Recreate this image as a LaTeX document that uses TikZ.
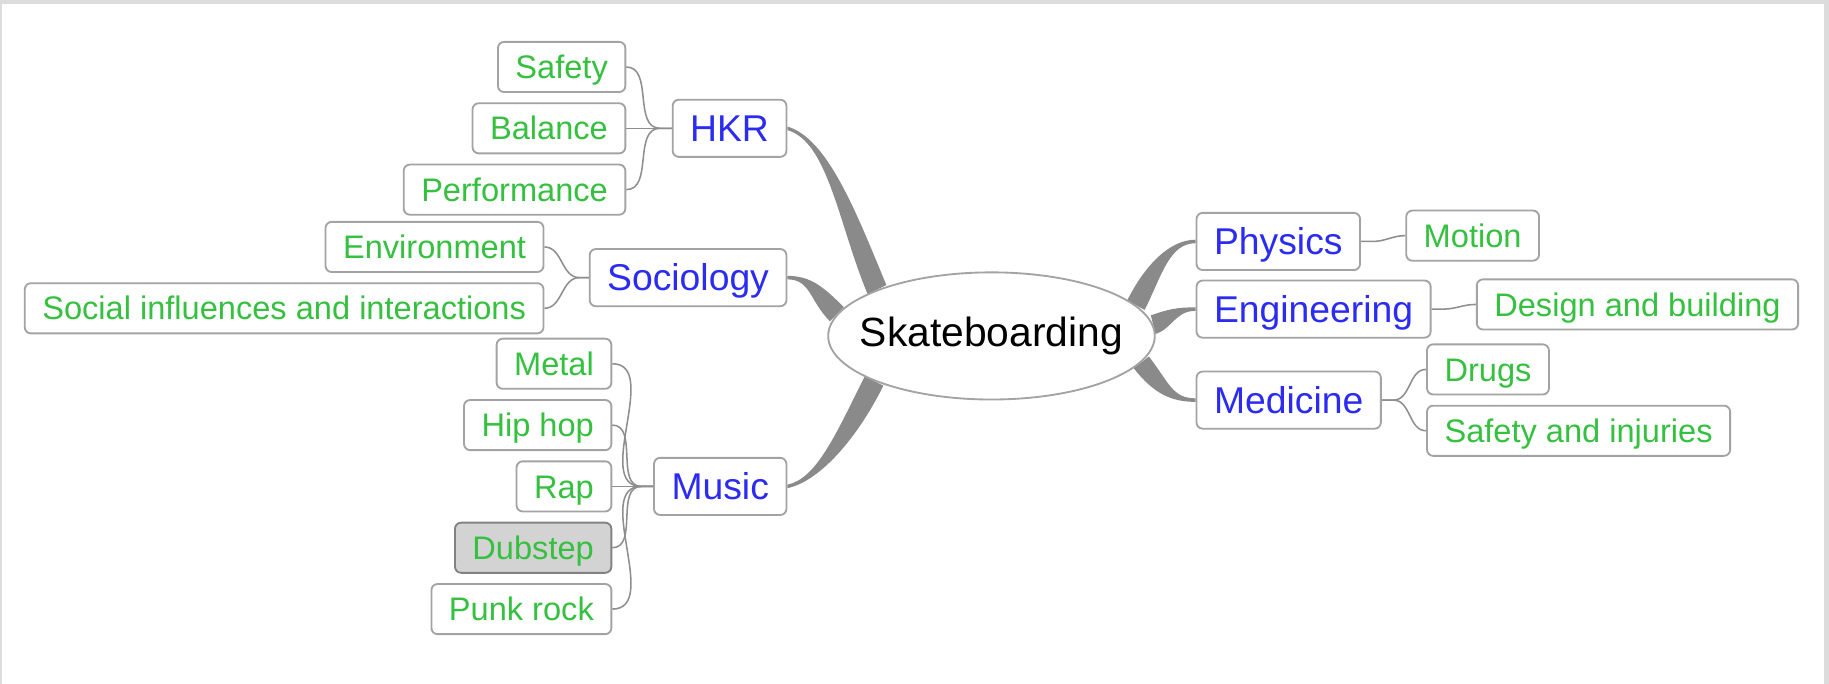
\documentclass[tikz,border=0pt]{standalone}
\usepackage{fontspec}
\setmainfont{Liberation Sans}
\usetikzlibrary{positioning,shapes.geometric,calc,backgrounds}

\definecolor{leafgreen}{HTML}{35C040}
\definecolor{topicblue}{HTML}{2B2BF2}
\definecolor{boxline}{HTML}{A3A3A3}
\definecolor{trunkgray}{HTML}{8A8A8A}
\definecolor{twiggray}{HTML}{8E8E8E}
\definecolor{dubgray}{HTML}{D3D3D3}
\definecolor{framegray}{HTML}{DCDCDC}

\tikzset{
  root/.style={ellipse, draw=boxline, line width=0.9pt, fill=white,
    inner xsep=-0.4cm, inner ysep=0pt,
    minimum width=5.6cm, minimum height=2.18cm, font=\fontsize{19.9}{22}\selectfont},
  box/.style={rectangle, rounded corners=3pt, draw=boxline, line width=0.9pt,
    fill=white, inner xsep=0.3cm},
  topic/.style={box, text=topicblue, minimum height=0.98cm,
    text height=16pt, text depth=3pt, font=\fontsize{18.2}{20}\selectfont},
  leaf/.style={box, text=leafgreen, minimum height=0.86cm,
    text height=14pt, text depth=2.6pt, font=\fontsize{15.9}{18}\selectfont},
  twig/.style={draw=twiggray, line width=0.75pt},
  trunk/.style={fill=trunkgray},
}

% tapered branch: thin end at #1, wide end at #2, controls #3/#4, half width #5
\newcommand{\trunk}[5]{%
  \fill[trunk] ($(#1)+(0,0.03)$) .. controls +(#3) and +(#4) .. ($(#2)+(#5)$)
    -- ($(#2)-(#5)$) .. controls +(#4) and +(#3) .. ($(#1)-(0,0.03)$) -- cycle;}

\begin{document}
\begin{tikzpicture}
 \useasboundingbox (-17,-5.96) rectangle (14.36,5.76);
 \fill[framegray] (-17,5.69) rectangle (14.36,5.76);
 \fill[framegray] (14.274,-5.96) rectangle (14.36,5.76);
 \fill[framegray] (-17,-5.96) rectangle (-16.965,5.76);

 \node[root] (skate) at (0,0) {Skateboarding};

 % left topics
 \node[topic] (hkr) [left=3.5cm of skate.center, yshift=3.56cm] {HKR};
 \node[topic] (sociology) [left=3.5cm of skate.center, yshift=1.0cm] {Sociology};
 \node[topic] (music) [left=3.5cm of skate.center, yshift=-2.58cm] {Music};
 % right topics
 \node[topic] (physics) [right=3.5cm of skate.center, yshift=1.62cm] {Physics};
 \node[topic] (engineering) [right=3.5cm of skate.center, yshift=0.46cm] {Engineering};
 \node[topic] (medicine) [right=3.5cm of skate.center, yshift=-1.1cm] {Medicine};

 % HKR
 \node[leaf] (balance) [left=0.78cm of hkr] {Balance};
 \node[leaf] (safety) [above left=0.16cm and 0cm of balance.north east] {Safety};
 \node[leaf] (performance) [below left=0.16cm and 0cm of balance.south east] {Performance};

 % Sociology
 \node[leaf] (environment) [above left=0.08cm and 0.76cm of sociology.west] {Environment};
 \node[leaf] (social) [below left=0.08cm and 0.76cm of sociology.west] {Social influences and interactions};

 % Music
 \node[leaf] (rap) [left=0.7cm of music] {Rap};
 \node[leaf] (hiphop) [above left=0.16cm and 0cm of rap.north east] {Hip hop};
 \node[leaf] (metal) [above left=0.16cm and 0cm of hiphop.north east] {Metal};
 \node[leaf, fill=dubgray, draw=boxline!80!black] (dubstep) [below left=0.16cm and 0cm of rap.south east] {Dubstep};
 \node[leaf] (punk) [below left=0.16cm and 0cm of dubstep.south east] {Punk rock};

 % right leaves
 \node[leaf] (motion) [right=0.76cm of physics, yshift=0.1cm] {Motion};
 \node[leaf] (design) [right=0.76cm of engineering, yshift=0.08cm] {Design and building};
 \node[leaf] (drugs) [above right=0.08cm and 0.76cm of medicine.east] {Drugs};
 \node[leaf] (injuries) [below right=0.08cm and 0.76cm of medicine.east] {Safety and injuries};

 \begin{scope}[on background layer]
  \trunk{hkr.east}{skate.158}{0.7,-0.2}{-0.5,1.2}{0.16,0.08}
  \trunk{sociology.east}{skate.172}{0.4,0}{-0.35,0.35}{0.12,0.12}
  \trunk{music.east}{skate.201}{0.5,0.1}{-0.5,-1.0}{-0.16,0.08}
  \trunk{physics.west}{skate.12}{-0.45,0}{0.3,0.6}{-0.15,0.08}
  \trunk{engineering.west}{skate.4}{-0.35,0}{0.3,0.1}{-0.04,0.16}
  \trunk{medicine.west}{skate.350}{-0.4,0}{0.35,-0.45}{0.13,0.1}

  \foreach \leaf in {safety,balance,performance}
   \draw[twig] (\leaf.east) to[out=0,in=180] ([xshift=-0.2cm]hkr.west) -- (hkr.west);
  \foreach \leaf in {environment,social}
   \draw[twig] (\leaf.east) to[out=0,in=180] ([xshift=-0.16cm]sociology.west) -- (sociology.west);
  \foreach \leaf in {metal,hiphop,rap,dubstep,punk}
   \draw[twig] (\leaf.east) to[out=0,in=180] ([xshift=-0.2cm]music.west) -- (music.west);

  \draw[twig] (physics.east) -- ([xshift=0.2cm]physics.east) to[out=0,in=180] (motion.west);
  \draw[twig] (engineering.east) -- ([xshift=0.2cm]engineering.east) to[out=0,in=180] (design.west);
  \foreach \leaf in {drugs,injuries}
   \draw[twig] (medicine.east) -- ([xshift=0.2cm]medicine.east) to[out=0,in=180] (\leaf.west);
 \end{scope}
\end{tikzpicture}
\end{document}
